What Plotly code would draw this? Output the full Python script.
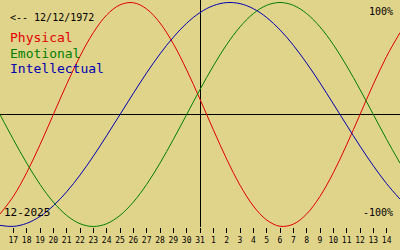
import plotly.graph_objects as go

# day offsets relative to 31 Dec 2025 (day 16 Dec .. 15 Jan)
day_offset = list(range(-15, 16))
tick_vals = list(range(-14, 15))
tick_text = [str(d) for d in range(17, 32)] + [str(d) for d in range(1, 15)]

physical = [-0.888, -0.731, -0.520, -0.270, 0.0, 0.270, 0.520, 0.731, 0.888, 0.979,
            0.998, 0.942, 0.817, 0.631, 0.398, 0.136, -0.136, -0.398, -0.631, -0.817,
            -0.942, -0.998, -0.979, -0.888, -0.731, -0.520, -0.270, 0.0, 0.270, 0.520, 0.731]
emotional = [0.0, -0.223, -0.434, -0.624, -0.782, -0.901, -0.975, -1.0, -0.975, -0.901,
             -0.782, -0.624, -0.434, -0.223, 0.0, 0.223, 0.434, 0.624, 0.782, 0.901,
             0.975, 1.0, 0.975, 0.901, 0.782, 0.624, 0.434, 0.223, 0.0, -0.223, -0.434]
intellectual = [-0.990, -0.999, -0.972, -0.910, -0.815, -0.690, -0.541, -0.372, -0.189, 0.0,
                0.189, 0.372, 0.541, 0.690, 0.815, 0.910, 0.972, 0.999, 0.990, 0.945,
                0.866, 0.756, 0.618, 0.458, 0.282, 0.095, -0.095, -0.282, -0.458, -0.618, -0.756]

BG = "#e0d38a"
MONO = "DejaVu Sans Mono"
PH = 227.0  # plot height in px

fig = go.Figure()
for name, vals, col in [("Physical", physical, "#e00000"),
                        ("Emotional", emotional, "#008000"),
                        ("Intellectual", intellectual, "#0000b0")]:
    fig.add_trace(go.Scatter(x=day_offset, y=vals, mode="lines", name=name,
                             line=dict(color=col, width=1, shape="spline"),
                             hoverinfo="skip"))

top = 114.5 / 112.0
bottom = -(PH - 114.5) / 112.0

fig.update_layout(
    width=400, height=250,
    margin=dict(l=0, r=0, t=0, b=250 - PH),
    paper_bgcolor=BG, plot_bgcolor=BG,
    showlegend=False,
    xaxis=dict(range=[-15, 15], tickvals=tick_vals, ticktext=tick_text,
               ticks="outside", ticklen=5, tickcolor="black", tickwidth=1,
               showgrid=False, zeroline=True, zerolinecolor="black", zerolinewidth=1,
               showline=False, tickfont=dict(family=MONO, size=8, color="black"),
               tickangle=0, fixedrange=True),
    yaxis=dict(range=[bottom, top], showgrid=False, zeroline=True,
               zerolinecolor="black", zerolinewidth=1, showticklabels=False,
               ticks="", showline=False, fixedrange=True),
)

def ann(text, x, y, size, color, xanchor="left"):
    fig.add_annotation(text=text, xref="paper", yref="paper", x=x, y=y,
                       xanchor=xanchor, yanchor="middle", showarrow=False,
                       font=dict(family=MONO, size=size, color=color))

ann("&lt;-- 12/12/1972", 8 / 400, 1 - 17 / PH, 10, "black")
ann("Physical", 8 / 400, 1 - 38 / PH, 13, "#e00000")
ann("Emotional", 8 / 400, 1 - 53 / PH, 13, "#008000")
ann("Intellectual", 8 / 400, 1 - 68 / PH, 13, "#0000b0")
ann("100%", 395 / 400, 1 - 12 / PH, 10, "black", "right")
ann("-100%", 395 / 400, 1 - 212 / PH, 10, "black", "right")
ann("12-2025", 2 / 400, 1 - 212 / PH, 11, "black")

fig.write_html("out.html")
